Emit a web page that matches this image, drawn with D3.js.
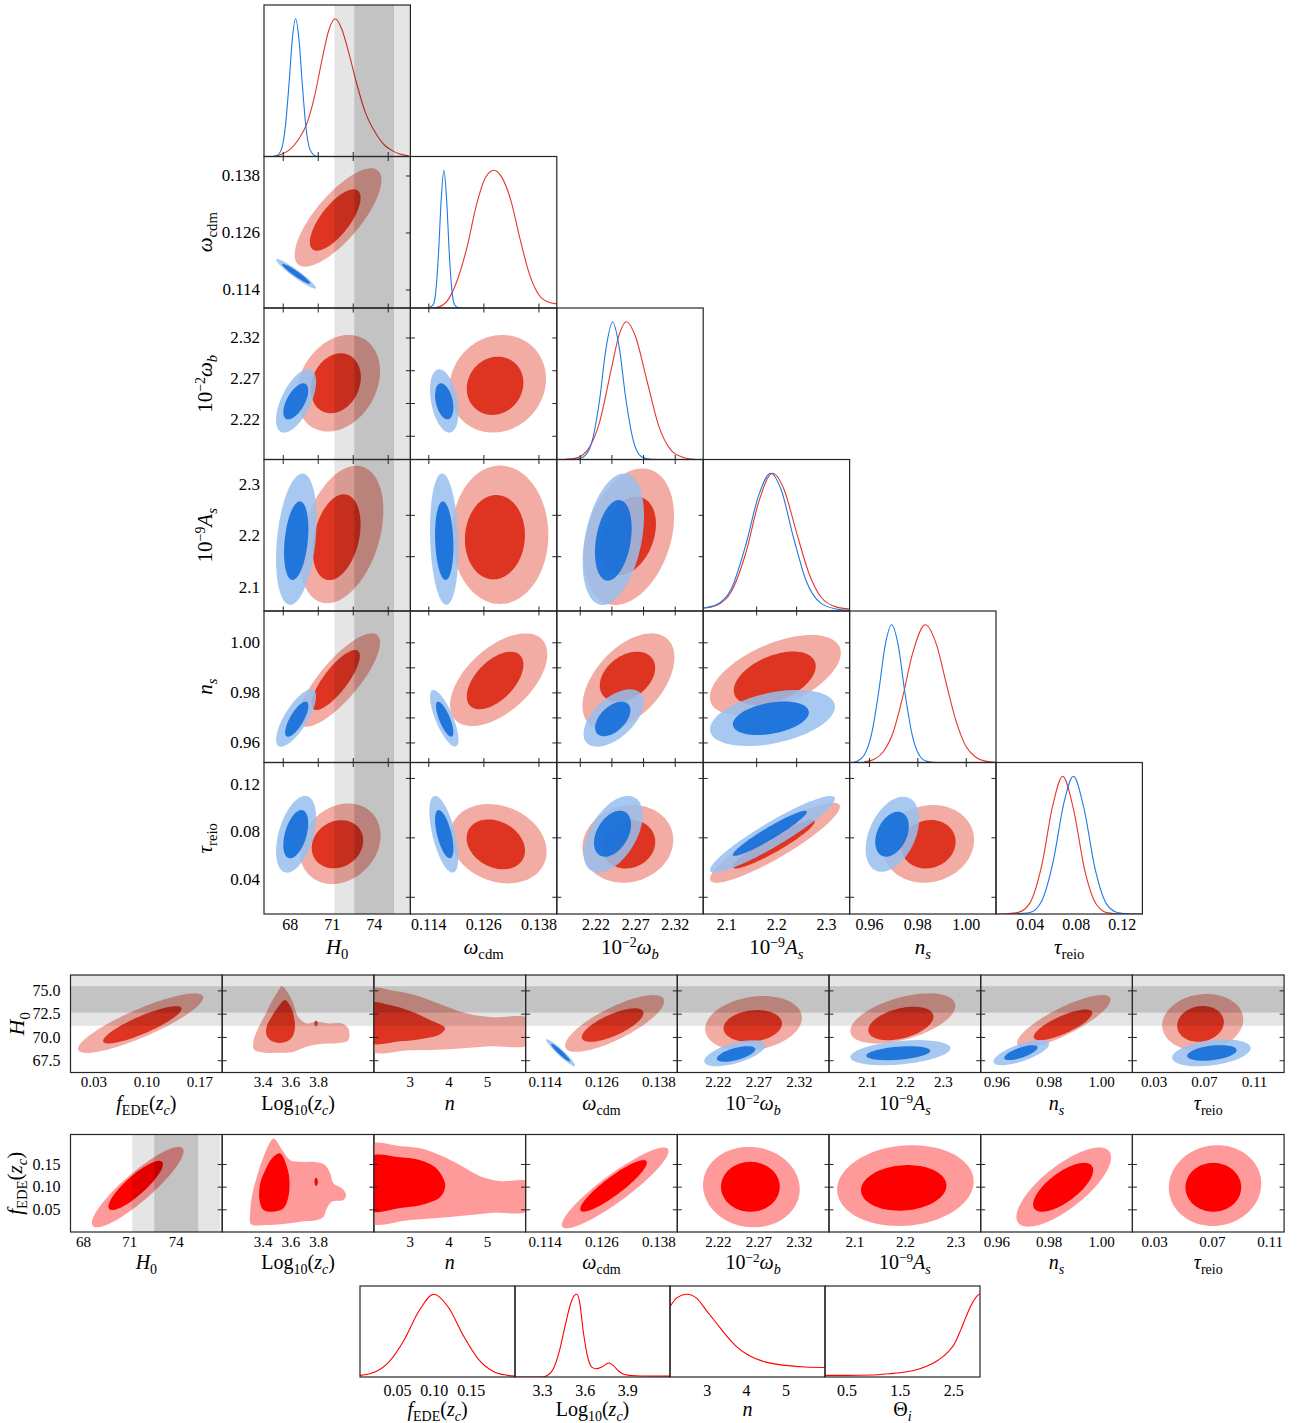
<!DOCTYPE html>
<html><head><meta charset="utf-8">
<script src="https://cdn.jsdelivr.net/npm/d3@7"></script>
<style>body{margin:0;background:#fff}svg{display:block}</style>
</head><body><div id="chart"></div>
<script>
// ================= DATA =================
// Triangle parameters: H0, omega_cdm, 10^-2 omega_b, 10^-9 A_s, n_s, tau_reio
const triRanges = [[66.16,76.62],[0.1101,0.142],[2.171,2.356],[2.054,2.347],[0.952,1.0125],[0.0105,0.138]];
const triLabelVals = [[68,71,74],[0.114,0.126,0.138],[2.22,2.27,2.32],[2.1,2.2,2.3],[0.96,0.98,1.00],[0.04,0.08,0.12]];
const triLabelText = [["68","71","74"],["0.114","0.126","0.138"],["2.22","2.27","2.32"],["2.1","2.2","2.3"],["0.96","0.98","1.00"],["0.04","0.08","0.12"]];
const triXTickMarks = [[67.5,70,72.5,75],[0.114,0.126,0.138],[2.20,2.24,2.28,2.32],[2.16,2.24],[0.96,0.98,1.00],[0.025,0.075,0.125]];
const triYTickMarks = [[67.5,70,72.5,75],[0.114,0.126,0.138],[2.20,2.24,2.28,2.32],[2.16,2.24],[0.96,0.97,0.98,0.99,1.00],[0.025,0.075,0.125]];

// 1D marginal posteriors [value, relative density]
const h0Red = [[66.8,0],[67.5,0.02],[68.0,0.05],[68.6,0.12],[69.26,0.25],[69.8,0.45],[70.3,0.7],[70.8,0.92],[71.23,1],[71.7,0.93],[72.2,0.76],[72.78,0.53],[73.4,0.32],[74.2,0.16],[74.8,0.08],[75.2,0.05],[75.8,0.02],[76.5,0.005]];
const h0Blue = [[66.8,0],[67.0,0.003],[67.4,0.05],[67.7,0.23],[67.95,0.53],[68.2,0.87],[68.42,1],[68.65,0.86],[68.9,0.52],[69.15,0.22],[69.45,0.05],[69.9,0.002],[70.3,0]];
const wcRed = [[0.1150,0],[0.1165,0.01],[0.1185,0.07],[0.1205,0.22],[0.1225,0.45],[0.1245,0.75],[0.1265,0.95],[0.1283,1],[0.1300,0.95],[0.1320,0.78],[0.1340,0.5],[0.1360,0.25],[0.1380,0.1],[0.1400,0.045],[0.1420,0.03]];
const wcBlue = [[0.1135,0],[0.1140,0.002],[0.1150,0.02],[0.1156,0.11],[0.1162,0.38],[0.1168,0.78],[0.1174,1],[0.1180,0.78],[0.1186,0.38],[0.1192,0.11],[0.1198,0.02],[0.1206,0.002],[0.1212,0]];
const wbRed = [[2.18,0],[2.195,0.01],[2.21,0.07],[2.225,0.27],[2.24,0.66],[2.25,0.91],[2.259,1],[2.27,0.9],[2.285,0.57],[2.30,0.24],[2.315,0.07],[2.33,0.017],[2.345,0.002]];
const wbBlue = [[2.19,0],[2.195,0.0014],[2.205,0.02],[2.215,0.12],[2.225,0.43],[2.233,0.8],[2.2416,1],[2.25,0.81],[2.258,0.45],[2.268,0.13],[2.278,0.02],[2.29,0.001],[2.30,0]];
const asRed = [[2.054,0.02],[2.08,0.04],[2.11,0.14],[2.14,0.43],[2.165,0.79],[2.193,1],[2.215,0.89],[2.24,0.58],[2.265,0.28],[2.29,0.1],[2.32,0.03],[2.347,0.015]];
const asBlue = [[2.054,0.022],[2.08,0.045],[2.11,0.16],[2.14,0.49],[2.165,0.84],[2.189,1],[2.21,0.88],[2.235,0.53],[2.26,0.22],[2.29,0.055],[2.32,0.015],[2.347,0.006]];
const nsRed = [[0.958,0.0045],[0.962,0.022],[0.966,0.08],[0.970,0.22],[0.974,0.48],[0.978,0.79],[0.9833,1],[0.988,0.85],[0.992,0.57],[0.996,0.3],[1.000,0.12],[1.004,0.04],[1.008,0.01],[1.0125,0.002]];
const nsBlue = [[0.953,0],[0.955,0.009],[0.958,0.053],[0.961,0.2],[0.964,0.51],[0.9667,0.85],[0.9694,1],[0.972,0.86],[0.975,0.49],[0.978,0.19],[0.981,0.047],[0.984,0.008],[0.988,0]];
const tauRed = [[0.012,0],[0.020,0.002],[0.030,0.012],[0.040,0.079],[0.050,0.34],[0.060,0.79],[0.0686,1],[0.078,0.76],[0.088,0.31],[0.098,0.069],[0.108,0.008],[0.118,0.0005],[0.138,0]];
const tauBlue = [[0.025,0],[0.040,0.011],[0.050,0.089],[0.060,0.37],[0.070,0.82],[0.0779,1],[0.087,0.77],[0.097,0.32],[0.107,0.07],[0.117,0.009],[0.127,0.0004],[0.138,0]];

// 2D contours (Gaussian-like ellipses): [centreX, centreY, halfExtentX, halfExtentY, correlation]
// triangle rows: [row, col, redOuter, redInner, blueOuter, blueInner]
const triContours = [
 [1,0,[71.45,0.12916,3.1,0.01036,0.76],[71.25,0.12863,1.81,0.00646,0.72],[68.45,0.1173,1.43,0.00312,-0.95],[68.46,0.1173,1.0,0.0021,-0.95]],
 [2,0,[71.47,2.2641,2.98,0.059,0.25],[71.29,2.2641,1.79,0.0366,0.2],[68.45,2.2425,1.43,0.0387,0.6],[68.43,2.242,0.89,0.022,0.6]],
 [3,0,[71.71,2.2019,2.98,0.133,0.35],[71.35,2.1967,1.71,0.083,0.3],[68.47,2.1929,1.45,0.127,0.3],[68.46,2.19,0.87,0.076,0.3]],
 [4,0,[71.53,0.98494,2.92,0.01865,0.8],[71.28,0.98494,1.73,0.012,0.8],[68.45,0.96977,1.43,0.01146,0.75],[68.5,0.9693,0.83,0.007,0.75]],
 [5,0,[71.61,0.06965,2.88,0.0339,0.2],[71.41,0.0692,1.84,0.0203,0.15],[68.45,0.0776,1.43,0.0323,0.45],[68.43,0.0777,0.89,0.0203,0.45]],
 [2,1,[0.12912,2.2635,0.01053,0.0596,0.1],[0.12855,2.261,0.00617,0.0356,0.1],[0.11747,2.2425,0.0031,0.0387,-0.35],[0.11747,2.242,0.002,0.022,-0.35]],
 [3,1,[0.12963,2.2014,0.01053,0.1338,0],[0.12852,2.1967,0.00654,0.0816,0.05],[0.11747,2.1929,0.0031,0.127,-0.15],[0.11747,2.19,0.002,0.076,-0.15]],
 [4,1,[0.12934,0.98506,0.0106,0.0185,0.55],[0.12855,0.98475,0.00617,0.0115,0.55],[0.11747,0.96965,0.0031,0.0113,-0.75],[0.11757,0.9693,0.0019,0.007,-0.75]],
 [5,1,[0.12925,0.06965,0.01053,0.0334,-0.2],[0.12871,0.0691,0.00636,0.021,-0.25],[0.11738,0.0776,0.00316,0.0323,-0.6],[0.11747,0.0777,0.002,0.0203,-0.6]],
 [3,2,[2.2619,2.1977,0.0573,0.132,0.3],[2.2609,2.1994,0.0354,0.0758,0.3],[2.2424,2.1929,0.0388,0.1273,0.35],[2.2424,2.1907,0.0232,0.078,0.3]],
 [4,2,[2.2615,0.98427,0.0581,0.0193,0.5],[2.2603,0.98626,0.035,0.01,0.35],[2.2428,0.96977,0.038,0.01146,0.55],[2.2417,0.9694,0.0223,0.0069,0.5]],
 [5,2,[2.2608,0.06956,0.0574,0.0327,0.1],[2.2615,0.0692,0.0339,0.0204,0.1],[2.2422,0.0776,0.0373,0.0323,0.5],[2.2414,0.0781,0.0234,0.0194,0.4]],
 [4,3,[2.1984,0.98694,0.131,0.016,0.55],[2.1972,0.98562,0.082,0.0107,0.45],[2.1926,0.96977,0.125,0.0112,0.4],[2.1894,0.96965,0.076,0.0067,0.35]],
 [5,3,[2.1976,0.0705,0.13,0.0337,0.9],[2.1952,0.0692,0.082,0.0204,0.93],[2.1926,0.0776,0.125,0.0323,0.93],[2.1874,0.0784,0.074,0.019,0.95]],
 [5,4,[0.9846,0.06956,0.01884,0.0327,0.1],[0.98457,0.0692,0.01124,0.0204,0.1],[0.96969,0.07765,0.01107,0.0316,0.4],[0.96953,0.07765,0.00694,0.0189,0.35]]
];

// SH0ES H0 bands (1 sigma, 2 sigma)
const h0Band1 = [72.61,75.45];
const h0Band2 = [71.19,76.87];

// H0 strip (y = H0)
const aH0Range = [66.18,76.65];
const aH0Ticks = [67.5,70,72.5,75];
const aH0TickText = ["67.5","70.0","72.5","75.0"];
const aRanges = [[0,0.2],[3.11,4.2],[2.07,6.0],[0.110,0.142],[2.17,2.357],[2.0,2.4],[0.954,1.012],[0.013,0.134]];
const aLabelVals = [[0.03,0.10,0.17],[3.4,3.6,3.8],[3,4,5],[0.114,0.126,0.138],[2.22,2.27,2.32],[2.1,2.2,2.3],[0.96,0.98,1.00],[0.03,0.07,0.11]];
const aLabelText = [["0.03","0.10","0.17"],["3.4","3.6","3.8"],["3","4","5"],["0.114","0.126","0.138"],["2.22","2.27","2.32"],["2.1","2.2","2.3"],["0.96","0.98","1.00"],["0.03","0.07","0.11"]];
// [panel, redOuter, redInner, blueOuter, blueInner]
const aEllipses = [
 [0,[0.0925,71.48,0.0825,3.2,0.86],[0.0947,71.3,0.0517,2.0,0.86],null,null],
 [3,[0.12878,71.45,0.01045,3.05,0.78],[0.12836,71.27,0.0065,1.8,0.72],[0.11739,68.31,0.00306,1.45,-0.95],[0.11739,68.31,0.002,0.95,-0.95]],
 [4,[2.264,71.45,0.0596,2.94,0.2],[2.263,71.18,0.036,1.7,0.15],[2.2408,68.25,0.0376,1.4,0.6],[2.2424,68.17,0.0237,0.84,0.6]],
 [5,[2.1947,71.99,0.1385,2.69,0.5],[2.1895,71.45,0.0858,1.8,0.4],[2.1881,68.31,0.132,1.35,0.35],[2.1828,68.25,0.0844,0.75,0.35]],
 [6,[0.98575,71.68,0.01786,2.82,0.82],[0.98545,71.3,0.0112,1.65,0.78],[0.96954,68.31,0.01065,1.35,0.7],[0.96936,68.31,0.0064,0.8,0.7]],
 [7,[0.0691,71.56,0.0323,3.05,0.1],[0.0673,71.4,0.0186,1.92,0.1],[0.076,68.29,0.0313,1.44,0.35],[0.0764,68.28,0.0197,0.84,0.35]]
];
const a2Outer = [[3.537,75.47],[3.577,74.85],[3.616,73.78],[3.656,72.16],[3.717,71.45],[3.789,71.62],[3.872,71.45],[3.968,71.45],[4.016,70.91],[4.016,69.65],[3.956,69.36],[3.861,69.3],[3.764,69.12],[3.681,68.76],[3.62,68.39],[3.525,68.29],[3.405,68.33],[3.338,68.65],[3.333,69.47],[3.362,70.73],[3.417,72.34],[3.472,73.96],[3.513,74.96]];
const a2Inner = [[3.561,73.96],[3.602,73.24],[3.625,72.16],[3.633,71.08],[3.62,70.19],[3.584,69.58],[3.525,69.36],[3.465,69.55],[3.429,70.19],[3.429,71.08],[3.465,72.16],[3.513,73.24]];
const a2Spot = [3.784,71.45,0.012,0.3,0];
const a3Outer = [[1.95,75.14],[2.617,74.93],[3.136,74.5],[3.784,73.53],[4.433,72.56],[5.08,72.13],[6.1,71.91],[6.1,69.22],[5.08,69.0],[4.043,68.68],[3.006,68.58],[1.95,68.58]];
const a3Inner = [[1.95,73.64],[2.485,73.42],[3.006,72.78],[3.525,71.81],[3.913,70.95],[3.784,70.3],[3.265,69.76],[2.747,69.54],[1.95,69.44]];

// f_EDE strip (y = f_EDE)
const bFRange = [0,0.215];
const bFTicks = [0.05,0.10,0.15];
const bFTickText = ["0.05","0.10","0.15"];
const bRanges = [[67.2,77.0],[3.11,4.2],[2.07,6.0],[0.110,0.142],[2.17,2.357],[2.05,2.35],[0.954,1.012],[0.015,0.12]];
const bLabelVals = [[68,71,74],[3.4,3.6,3.8],[3,4,5],[0.114,0.126,0.138],[2.22,2.27,2.32],[2.1,2.2,2.3],[0.96,0.98,1.00],[0.03,0.07,0.11]];
const bLabelText = [["68","71","74"],["3.4","3.6","3.8"],["3","4","5"],["0.114","0.126","0.138"],["2.22","2.27","2.32"],["2.1","2.2","2.3"],["0.96","0.98","1.00"],["0.03","0.07","0.11"]];
const bEllipses = [
 [0,[71.54,0.099,2.96,0.0887,0.89],[71.41,0.1027,1.76,0.0543,0.86]],
 [3,[0.1289,0.0973,0.01125,0.0891,0.91],[0.12855,0.1017,0.00703,0.0568,0.9]],
 [4,[2.2613,0.099,0.0596,0.0887,-0.05],[2.2601,0.0997,0.0362,0.055,0]],
 [5,[2.2011,0.1023,0.135,0.0891,0.1],[2.1977,0.0973,0.0844,0.0502,0.1]],
 [6,[0.98575,0.099,0.0181,0.0873,0.75],[0.98552,0.0986,0.01148,0.0539,0.7]],
 [7,[0.0722,0.1023,0.032,0.0891,0.05],[0.0710,0.0986,0.0193,0.0539,0]]
];
const b2Outer = [[3.479,0.2062],[3.55,0.1767],[3.599,0.1584],[3.67,0.1547],[3.766,0.1547],[3.85,0.1474],[3.886,0.1292],[3.91,0.1072],[3.97,0.0962],[4.0,0.0814],[3.981,0.0704],[3.898,0.0667],[3.862,0.0521],[3.838,0.0337],[3.79,0.0264],[3.67,0.0227],[3.55,0.0176],[3.431,0.0154],[3.316,0.0176],[3.311,0.0411],[3.323,0.0777],[3.359,0.1217],[3.407,0.1657],[3.443,0.1914]];
const b2Inner = [[3.527,0.1732],[3.575,0.1437],[3.593,0.1144],[3.586,0.0777],[3.55,0.0521],[3.479,0.0447],[3.407,0.0484],[3.378,0.0704],[3.383,0.1072],[3.419,0.1364],[3.467,0.1622]];
const b2Spot = [3.785,0.1107,0.012,0.009,0];
const b3Outer = [[1.95,0.1915],[2.751,0.1893],[3.269,0.1849],[3.788,0.1694],[4.306,0.1474],[4.824,0.1232],[5.342,0.1122],[6.1,0.11],[6.1,0.0484],[5.083,0.0418],[4.047,0.033],[3.01,0.0264],[1.95,0.022]];
const b3Inner = [[1.95,0.165],[2.751,0.165],[3.269,0.1584],[3.658,0.143],[3.865,0.1188],[3.917,0.099],[3.788,0.077],[3.399,0.0616],[2.751,0.0528],[1.95,0.0484]];

// Bottom row 1D posteriors
const cRanges = [[0,0.21],[3.11,4.2],[2.07,6.0],[0.1,3.0]];
const cLabelVals = [[0.05,0.10,0.15],[3.3,3.6,3.9],[3,4,5],[0.5,1.5,2.5]];
const cLabelText = [["0.05","0.10","0.15"],["3.3","3.6","3.9"],["3","4","5"],["0.5","1.5","2.5"]];
const fedeCurve = [[0.0,0.02],[0.02,0.06],[0.04,0.19],[0.06,0.45],[0.08,0.8],[0.10,1.0],[0.12,0.84],[0.14,0.5],[0.16,0.22],[0.18,0.07],[0.20,0.02],[0.21,0.01]];
const logzcCurve = [[3.11,0],[3.30,0],[3.34,0.02],[3.38,0.1],[3.42,0.3],[3.46,0.6],[3.50,0.88],[3.53,0.99],[3.545,1],[3.565,0.9],[3.59,0.55],[3.62,0.25],[3.65,0.12],[3.68,0.1],[3.72,0.12],[3.77,0.17],[3.8,0.14],[3.84,0.07],[3.88,0.03],[3.95,0.015],[4.2,0.01]];
const nCurve = [[2.07,0.85],[2.25,0.96],[2.5,1.0],[2.75,0.95],[3.0,0.8],[3.25,0.65],[3.5,0.5],[3.75,0.37],[4.0,0.28],[4.25,0.22],[4.5,0.18],[5.0,0.14],[5.5,0.12],[6.0,0.115]];
const thetaCurve = [[0.1,0.02],[0.5,0.02],[1.0,0.025],[1.3,0.04],[1.6,0.06],[1.83,0.09],[2.0,0.13],[2.21,0.2],[2.4,0.3],[2.52,0.4],[2.64,0.57],[2.74,0.73],[2.82,0.85],[2.9,0.94],[2.96,0.99],[3.0,1.0]];

// Axis titles (text segments)
const labH0 = [["H","i"],["0","sub"]];
const labWc = [["ω","i"],["cdm","sub"]];
const labWb = [["10","r"],["−2","sup"],["ω","i"],["b","subi"]];
const labAs = [["10","r"],["−9","sup"],["A","i"],["s","subi"]];
const labNs = [["n","i"],["s","subi"]];
const labTau = [["τ","i"],["reio","sub"]];
const labF = [["f","i"],["EDE","sub"],["(","r"],["z","i"],["c","subi"],[")","r"]];
const labLog = [["Log","r"],["10","sub"],["(","r"],["z","i"],["c","subi"],[")","r"]];
const labN = [["n","i"]];
const labTheta = [["Θ","r"],["i","subi"]];
const triTitles = [labH0, labWc, labWb, labAs, labNs, labTau];
const aTitles = [labF, labLog, labN, labWc, labWb, labAs, labNs, labTau];
const bTitles = [labH0, labLog, labN, labWc, labWb, labAs, labNs, labTau];
const cTitles = [labF, labLog, labN, labTheta];

// ================= DRAWING =================
const SERIF = "'Liberation Serif','DejaVu Serif',serif";
const COL = {
  redOut:"#f2aca3", redIn:"#dd3524", blueOut:"#98c0ee", blueIn:"#0a68d8",
  fRedOut:"#ff9a9a", fRedIn:"#ff0000",
  redLine:"#e5372a", blueLine:"#1e78e6", pureLine:"#ff0000", frame:"#262626"
};
const svg = d3.select("#chart").append("svg").attr("width",1301).attr("height",1423);
const defs = svg.append("defs");
defs.append("filter").attr("id","soft").attr("x","-10%").attr("y","-10%").attr("width","120%").attr("height","120%")
  .append("feGaussianBlur").attr("stdDeviation",0.7);

let clipN = 0;
function panel(x,y,w,h){
  const id = "clip"+(clipN++);
  defs.append("clipPath").attr("id",id).append("rect").attr("x",x).attr("y",y).attr("width",w).attr("height",h);
  const g = svg.append("g");
  const inner = g.append("g").attr("clip-path",`url(#${id})`);
  return {g, inner, x, y, w, h};
}
function frame(p){
  p.g.append("rect").attr("x",p.x).attr("y",p.y).attr("width",p.w).attr("height",p.h)
    .attr("fill","none").attr("stroke",COL.frame).attr("stroke-width",1.2);
}
function ellipsePts(c){
  const [cx,cy,hx,hy,r] = c, s = Math.sqrt(1-r*r), pts=[];
  for(let k=0;k<96;k++){const t=2*Math.PI*k/96; pts.push([cx+hx*Math.cos(t), cy+hy*(r*Math.cos(t)+s*Math.sin(t))]);}
  return pts;
}
function shape(layer, pts, xs, ys, fill, op, curve){
  layer.append("path")
    .attr("d", d3.line().x(d=>xs(d[0])).y(d=>ys(d[1])).curve(curve)(pts))
    .attr("fill",fill).attr("fill-opacity",op);
}
function ell(layer, c, xs, ys, fill, op){ if(c) shape(layer, ellipsePts(c), xs, ys, fill, op, d3.curveLinearClosed); }
function poly(layer, pts, xs, ys, fill, op){ shape(layer, pts, xs, ys, fill, op, d3.curveCatmullRomClosed.alpha(0.5)); }
function curve1D(p, data, xs, ys, color){
  p.inner.append("path").attr("d", d3.line().x(d=>xs(d[0])).y(d=>ys(d[1])).curve(d3.curveMonotoneX)(data))
    .attr("fill","none").attr("stroke",color).attr("stroke-width",1.1);
}
function vBands(p, xs){
  [[h0Band2,0.1],[h0Band1,0.146]].forEach(([b,op])=>{
    p.inner.append("rect").attr("x",xs(b[0])).attr("width",xs(b[1])-xs(b[0])).attr("y",p.y).attr("height",p.h)
      .attr("fill","#000").attr("fill-opacity",op);
  });
}
function hBands(p, ys){
  [[h0Band2,0.1],[h0Band1,0.146]].forEach(([b,op])=>{
    p.inner.append("rect").attr("y",ys(b[1])).attr("height",ys(b[0])-ys(b[1])).attr("x",p.x).attr("width",p.w)
      .attr("fill","#000").attr("fill-opacity",op);
  });
}
const AX = {bottom:d3.axisBottom, top:d3.axisTop, left:d3.axisLeft, right:d3.axisRight};
function marks(p, orient, scale, vals){
  const pos = orient==="bottom" ? `translate(0,${p.y+p.h})` : orient==="top" ? `translate(0,${p.y})`
            : orient==="left" ? `translate(${p.x},0)` : `translate(${p.x+p.w},0)`;
  const a = p.g.append("g").attr("transform",pos).call(AX[orient](scale).tickValues(vals).tickFormat("").tickSize(-4.5));
  a.select(".domain").remove();
  a.selectAll("line").attr("stroke",COL.frame).attr("stroke-width",1);
}
function labels(p, orient, scale, vals, texts, pad, fs){
  const pos = orient==="bottom" ? `translate(0,${p.y+p.h})` : `translate(${p.x},0)`;
  const a = p.g.append("g").attr("transform",pos)
    .call(AX[orient](scale).tickValues(vals).tickFormat((d,i)=>texts[i]).tickSize(0).tickPadding(pad));
  a.select(".domain").remove();
  a.attr("font-family",SERIF).attr("font-size",fs);
  a.selectAll("text").attr("fill","#000");
}
function richText(segs, fs, x, y, rotate){
  const t = svg.append("text").attr("text-anchor","middle").attr("font-family",SERIF).attr("font-size",fs).attr("fill","#000")
    .attr("transform", rotate ? `translate(${x},${y}) rotate(-90)` : `translate(${x},${y})`);
  let cur = 0;
  segs.forEach(([s,k])=>{
    let off=0, size=fs, it=(k==="i"||k==="subi");
    if(k==="sub"||k==="subi"){off=0.25*fs; size=0.7*fs;}
    if(k==="sup"){off=-0.33*fs; size=0.66*fs;}
    t.append("tspan").text(s).attr("dy",off-cur).attr("font-size",size).attr("font-style",it?"italic":"normal");
    cur = off;
  });
}

// ---------- Triangle ----------
const T = {x0:264, y0:5, w:146.4, h:151.5};
const triRed1D = [h0Red, wcRed, wbRed, asRed, nsRed, tauRed];
const triBlue1D = [h0Blue, wcBlue, wbBlue, asBlue, nsBlue, tauBlue];
for(let i=0;i<6;i++){
  for(let j=0;j<=i;j++){
    const px = T.x0+j*T.w, py = T.y0+i*T.h;
    const p = panel(px,py,T.w,T.h);
    const xs = d3.scaleLinear().domain(triRanges[j]).range([px,px+T.w]);
    if(i===j){
      const ys = d3.scaleLinear().domain([0,1.1]).range([py+T.h,py]);
      curve1D(p, triRed1D[i], xs, ys, COL.redLine);
      curve1D(p, triBlue1D[i], xs, ys, COL.blueLine);
      if(j===0) vBands(p, xs);
      frame(p);
      if(i<5) marks(p,"bottom",xs,triXTickMarks[j]);
    } else {
      const ys = d3.scaleLinear().domain(triRanges[i]).range([py+T.h,py]);
      const c = triContours.find(d=>d[0]===i && d[1]===j);
      const layer = p.inner.append("g").attr("filter","url(#soft)");
      ell(layer,c[2],xs,ys,COL.redOut,1);
      ell(layer,c[3],xs,ys,COL.redIn,1);
      ell(layer,c[4],xs,ys,COL.blueOut,0.85);
      ell(layer,c[5],xs,ys,COL.blueIn,0.85);
      if(j===0) vBands(p, xs);
      frame(p);
      marks(p,"top",xs,triXTickMarks[j]);
      if(i<5) marks(p,"bottom",xs,triXTickMarks[j]);
      if(j>0) marks(p,"left",ys,triYTickMarks[i]);
      marks(p,"right",ys,triYTickMarks[i]);
      if(j===0) labels(p,"left",ys,triLabelVals[i],triLabelText[i],4,17);
    }
    if(i===5) labels(p,"bottom",xs,triLabelVals[j],triLabelText[j],5,16);
  }
}
triTitles.forEach((lab,j)=>richText(lab,21,T.x0+(j+0.5)*T.w,954));
triTitles.forEach((lab,i)=>{ if(i>0) richText(lab,21,212,T.y0+(i+0.5)*T.h,true); });

// ---------- H0 strip ----------
const S = {x0:70.5, w:151.7, h:97.5};
const yA = 975, yB = 1134.5;
for(let k=0;k<8;k++){
  const px = S.x0+k*S.w;
  const p = panel(px,yA,S.w,S.h);
  const xs = d3.scaleLinear().domain(aRanges[k]).range([px,px+S.w]);
  const ys = d3.scaleLinear().domain(aH0Range).range([yA+S.h,yA]);
  const layer = p.inner.append("g").attr("filter","url(#soft)");
  const e = aEllipses.find(d=>d[0]===k);
  if(e){ ell(layer,e[1],xs,ys,COL.redOut,1); ell(layer,e[2],xs,ys,COL.redIn,1); ell(layer,e[3],xs,ys,COL.blueOut,0.85); ell(layer,e[4],xs,ys,COL.blueIn,0.85); }
  if(k===1){ poly(layer,a2Outer,xs,ys,COL.redOut,1); poly(layer,a2Inner,xs,ys,COL.redIn,1); ell(layer,a2Spot,xs,ys,"#c9473a",1); }
  if(k===2){ poly(layer,a3Outer,xs,ys,COL.redOut,1); poly(layer,a3Inner,xs,ys,COL.redIn,1); }
  hBands(p, ys);
  frame(p);
  if(k>0) marks(p,"left",ys,aH0Ticks);
  marks(p,"right",ys,aH0Ticks);
  if(k===0) labels(p,"left",ys,aH0Ticks,aH0TickText,10,16);
  labels(p,"bottom",xs,aLabelVals[k],aLabelText[k],4,15);
  richText(aTitles[k],20,px+S.w/2,1110);
}
richText(labH0,22,24,yA+S.h/2,true);

// ---------- f_EDE strip ----------
for(let k=0;k<8;k++){
  const px = S.x0+k*S.w;
  const p = panel(px,yB,S.w,S.h);
  const xs = d3.scaleLinear().domain(bRanges[k]).range([px,px+S.w]);
  const ys = d3.scaleLinear().domain(bFRange).range([yB+S.h,yB]);
  const layer = p.inner.append("g").attr("filter","url(#soft)");
  const e = bEllipses.find(d=>d[0]===k);
  if(e){ ell(layer,e[1],xs,ys,COL.fRedOut,1); ell(layer,e[2],xs,ys,COL.fRedIn,1); }
  if(k===1){ poly(layer,b2Outer,xs,ys,COL.fRedOut,1); poly(layer,b2Inner,xs,ys,COL.fRedIn,1); ell(layer,b2Spot,xs,ys,"#e01010",1); }
  if(k===2){ poly(layer,b3Outer,xs,ys,COL.fRedOut,1); poly(layer,b3Inner,xs,ys,COL.fRedIn,1); }
  if(k===0) vBands(p, xs);
  frame(p);
  if(k>0) marks(p,"left",ys,bFTicks);
  marks(p,"right",ys,bFTicks);
  if(k===0) labels(p,"left",ys,bFTicks,bFTickText,10,16);
  labels(p,"bottom",xs,bLabelVals[k],bLabelText[k],4,15);
  richText(bTitles[k],20,px+S.w/2,1269);
}
richText(labF,21,22,yB+S.h/2,true);

// ---------- Bottom 1D row ----------
const C = {x0:360, y0:1286, w:155, h:91};
const cCurves = [fedeCurve, logzcCurve, nCurve, thetaCurve];
for(let k=0;k<4;k++){
  const px = C.x0+k*C.w;
  const p = panel(px,C.y0,C.w,C.h);
  const xs = d3.scaleLinear().domain(cRanges[k]).range([px,px+C.w]);
  const ys = d3.scaleLinear().domain([0,1.1]).range([C.y0+C.h,C.y0]);
  curve1D(p, cCurves[k], xs, ys, COL.pureLine);
  frame(p);
  labels(p,"bottom",xs,cLabelVals[k],cLabelText[k],8,16);
  richText(cTitles[k],20,px+C.w/2,1416);
}
</script></body></html>
